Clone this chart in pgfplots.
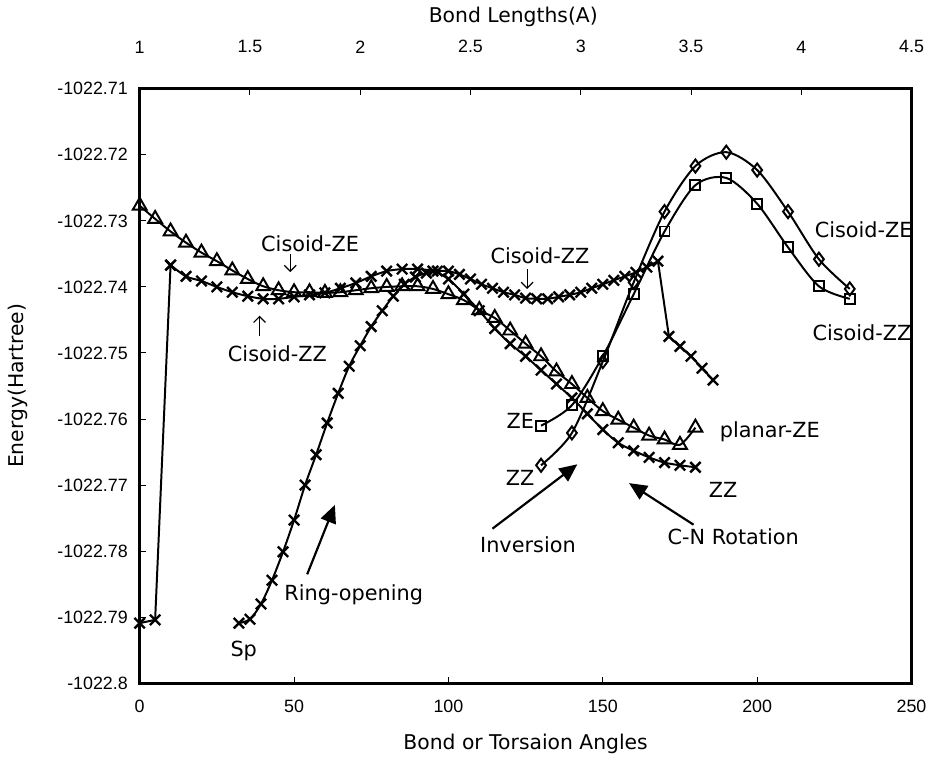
\documentclass[border=0pt]{standalone}
\usepackage{fontspec}
\setmainfont{DejaVu Sans}
\newfontfamily\tickfont{Liberation Sans}
\usepackage{pgfplots}
\pgfplotsset{compat=1.18}
\usetikzlibrary{arrows.meta}

\pgfplotstableread{
x y
0 -1022.7277
5 -1022.7297
10 -1022.7316
15 -1022.7333
20 -1022.7348
25 -1022.7361
30 -1022.7375
35 -1022.7388
40 -1022.7399
45 -1022.7405
50 -1022.7408
55 -1022.7408
60 -1022.7409
65 -1022.7408
70 -1022.7405
75 -1022.7402
80 -1022.7400
85 -1022.7399
90 -1022.7399
95 -1022.7403
100 -1022.7411
105 -1022.7420
110 -1022.7435
115 -1022.7447
120 -1022.7466
125 -1022.7486
130 -1022.7505
135 -1022.7528
140 -1022.7547
145 -1022.7568
150 -1022.7588
155 -1022.7601
160 -1022.7613
165 -1022.7625
170 -1022.7631
175 -1022.7639
180 -1022.7613
}\planarZE

% C-N rotation, ZZ: first three points (Sp start and jump)
\pgfplotstableread{
x y
0 -1022.7909
5 -1022.7904
10 -1022.7367
}\rotZZa

\pgfplotstableread{
x y
10 -1022.7367
15 -1022.7384
20 -1022.7391
25 -1022.7400
30 -1022.7408
35 -1022.7414
40 -1022.7418
45 -1022.7418
50 -1022.7415
55 -1022.7412
60 -1022.7409
65 -1022.7402
70 -1022.7394
75 -1022.7384
80 -1022.7376
85 -1022.7373
90 -1022.7373
95 -1022.7376
100 -1022.7388
105 -1022.7411
110 -1022.7436
115 -1022.7463
120 -1022.7486
125 -1022.7505
130 -1022.7526
135 -1022.7547
140 -1022.7568
145 -1022.7592
150 -1022.7616
155 -1022.7636
160 -1022.7648
165 -1022.7658
170 -1022.7666
175 -1022.7670
180 -1022.7673
}\rotZZb

% Ring-opening (bond length axis)
\pgfplotstableread{
x y
1.45 -1022.7909
1.50 -1022.7903
1.55 -1022.7880
1.60 -1022.7844
1.65 -1022.7801
1.70 -1022.7753
1.75 -1022.7700
1.80 -1022.7654
1.85 -1022.7606
1.90 -1022.7561
1.95 -1022.7520
2.00 -1022.7489
2.05 -1022.7460
2.10 -1022.7436
2.15 -1022.7414
2.20 -1022.7396
2.25 -1022.7385
2.30 -1022.7379
2.35 -1022.7376
2.40 -1022.7376
2.45 -1022.7381
2.50 -1022.7388
2.55 -1022.7396
2.60 -1022.7402
2.65 -1022.7408
2.70 -1022.7412
2.75 -1022.7417
2.80 -1022.7418
2.85 -1022.7418
2.90 -1022.7415
2.95 -1022.7412
3.00 -1022.7408
3.05 -1022.7402
3.10 -1022.7396
3.15 -1022.7390
3.20 -1022.7384
3.25 -1022.7378
3.30 -1022.7370
3.35 -1022.7361
}\ringa

\pgfplotstableread{
x y
3.35 -1022.7361
3.40 -1022.7475
}\ringb

\pgfplotstableread{
x y
3.40 -1022.7475
3.45 -1022.7490
3.50 -1022.7505
3.55 -1022.7523
3.60 -1022.7541
}\ringc

\pgfplotstableread{
x y
130 -1022.7610
140 -1022.7579
150 -1022.7505
160 -1022.7411
170 -1022.7316
180 -1022.7246
190 -1022.7235
200 -1022.7274
210 -1022.7340
220 -1022.7399
230 -1022.7418
}\invZE

\pgfplotstableread{
x y
130 -1022.7670
140 -1022.7621
150 -1022.7513
160 -1022.7393
170 -1022.7286
180 -1022.7217
190 -1022.7196
200 -1022.7223
210 -1022.7286
220 -1022.7358
230 -1022.7403
}\invZZ

\begin{document}
\begin{tikzpicture}
\pgfplotsset{
  base/.style={scale only axis, width=389.5pt, height=300pt, at={(0,0)}, anchor=south west,
    ymin=-1022.8, ymax=-1022.71, clip=false,
    axis line style={line width=1.3pt, black},
    tick style={line width=0.5pt, black},
    tick align=inside, major tick length=3pt,
    ticklabel style={font=\tickfont\fontsize{9}{10}\selectfont},
    label style={font=\fontsize{10.25}{12}\selectfont}},
  ser/.style={black, line width=1pt, smooth, tension=0.5, mark options={solid, fill=white, line width=1pt}},
  xser/.style={black, line width=1pt, mark=x, mark size=3.7pt, mark options={solid, line width=1.2pt}},
}
\begin{axis}[base, xmin=0, xmax=250,
  xtick={0,50,100,150,200,250}, xticklabels={0,50,100,150,200,250},
  xtick pos=bottom, ytick pos=left,
  xticklabel style={yshift=-5pt},
  yticklabel style={xshift=-2.5pt},
  ytick={-1022.8,-1022.79,-1022.78,-1022.77,-1022.76,-1022.75,-1022.74,-1022.73,-1022.72,-1022.71},
  yticklabels={-1022.8,-1022.79,-1022.78,-1022.77,-1022.76,-1022.75,-1022.74,-1022.73,-1022.72,-1022.71},
  xlabel={Bond or Torsaion Angles}, ylabel={Energy(Hartree)},
  xlabel style={at={(axis description cs:0.5,-0.1017)}, anchor=center},
  ylabel style={at={(axis description cs:-0.158,0.5)}, anchor=center},
]
\addplot[xser, sharp plot] table {\rotZZa};
\addplot[xser, smooth, tension=0.5] table {\rotZZb};
\addplot[ser, mark=triangle, mark size=4pt] table {\planarZE};
\addplot[ser, mark=square, mark size=2.5pt] table {\invZE};
\addplot[ser, mark=diamond, mark size=3.3pt] table {\invZZ};

\begin{scope}[font=\fontsize{10.5}{12}\selectfont]
\node at (rel axis cs:0.2208,0.74) {Cisoid-ZE};
\draw[line width=0.6pt, -{Straight Barb[length=3pt,width=6pt]}] (rel axis cs:0.195,0.7217) -- (rel axis cs:0.195,0.6917);
\node at (rel axis cs:0.5186,0.7183) {Cisoid-ZZ};
\draw[line width=0.6pt, -{Straight Barb[length=3pt,width=6pt]}] (rel axis cs:0.502,0.6967) -- (rel axis cs:0.502,0.6633);
\node at (rel axis cs:0.1784,0.555) {Cisoid-ZZ};
\draw[line width=0.6pt, -{Straight Barb[length=3pt,width=6pt]}] (rel axis cs:0.1553,0.5833) -- (rel axis cs:0.1553,0.6183);
\node at (rel axis cs:0.938,0.7633) {Cisoid-ZE};
\node at (rel axis cs:0.9358,0.59) {Cisoid-ZZ};
\node at (rel axis cs:0.8164,0.4233) {planar-ZE};
\node at (rel axis cs:0.493,0.4417) {ZE};
\node at (rel axis cs:0.493,0.345) {ZZ};
\node at (rel axis cs:0.756,0.325) {ZZ};
\node at (rel axis cs:0.503,0.2333) {Inversion};
\node at (rel axis cs:0.769,0.2467) {C-N Rotation};
\node at (rel axis cs:0.2773,0.1483) {Ring-opening};
\node at (rel axis cs:0.1348,0.055) {Sp};
\end{scope}
\draw[line width=1.1pt, -{Triangle[length=9pt,width=8pt]}] (rel axis cs:0.217,0.1833) -- (rel axis cs:0.2529,0.30);
\draw[line width=1.1pt, -{Triangle[length=9pt,width=8pt]}] (rel axis cs:0.457,0.26) -- (rel axis cs:0.567,0.3683);
\draw[line width=1.1pt, -{Triangle[length=9pt,width=8pt]}] (rel axis cs:0.7176,0.2667) -- (rel axis cs:0.634,0.3367);
\end{axis}

\begin{axis}[base, xmin=1, xmax=4.5, axis x line*=top, axis y line=none,
  xtick={1,1.5,2,2.5,3,3.5,4,4.5}, xticklabels={1,1.5,2,2.5,3,3.5,4,4.5},
  xticklabel style={yshift=14.5pt},
  xlabel={Bond Lengths(A)},
  xlabel style={at={(axis description cs:0.484,1.1217)}, anchor=center},
]
\addplot[xser, smooth, tension=0.5] table {\ringa};
\addplot[xser, sharp plot, mark=none] table {\ringb};
\addplot[xser, smooth, tension=0.5] table {\ringc};
\end{axis}
\path[use as bounding box] (-70.5pt,-36.5pt) rectangle (396pt,344pt);
\end{tikzpicture}
\end{document}
